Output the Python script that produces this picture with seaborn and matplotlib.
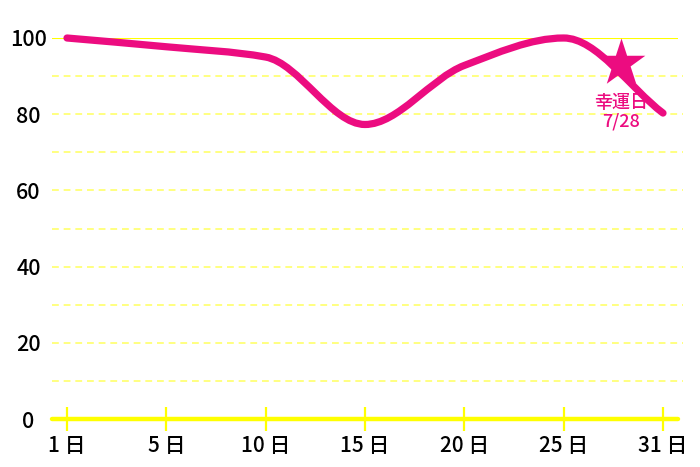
import numpy as np
import matplotlib
matplotlib.use("Agg")
import matplotlib.pyplot as plt
from matplotlib.path import Path
from matplotlib.patches import PathPatch
import seaborn as sns
import pandas as pd

# ---- data ----
days = ["1 日", "5 日", "10 日", "15 日", "20 日", "25 日", "31 日"]
values = [100, 97.7, 95, 77.3, 92.8, 100, 80.3]
lucky_label = "幸運日\n7/28"
lucky_pos = 5.58
lucky_value = 93.4
y_ticks = [0, 20, 40, 60, 80, 100]

PINK = "#ec0c80"
YELLOW = "#ffff00"
PALE = "#ffff80"

sns.set_theme(style="white")
plt.rcParams["font.family"] = ["Noto Sans CJK JP", "DejaVu Sans"]

fig = plt.figure(figsize=(7, 4.67), dpi=100)
ax = fig.add_axes([52 / 700, 48 / 467, 626 / 700, 381 / 467])

df = pd.DataFrame({"pos": np.arange(len(days)), "value": values})

# smooth monotone (Fritsch-Carlson) cubic Bezier path through the points
x = df["pos"].to_numpy(float)
y = df["value"].to_numpy(float)
h = np.diff(x)
d = np.diff(y) / h
m = np.zeros_like(y)
m[0], m[-1] = d[0], d[-1]
for i in range(1, len(y) - 1):
    if d[i - 1] * d[i] <= 0:
        m[i] = 0
    else:
        w1 = 2 * h[i] + h[i - 1]
        w2 = h[i] + 2 * h[i - 1]
        m[i] = (w1 + w2) / (w1 / d[i - 1] + w2 / d[i])
verts = [(x[0], y[0])]
codes = [Path.MOVETO]
for i in range(len(x) - 1):
    verts += [(x[i] + h[i] / 3, y[i] + m[i] * h[i] / 3),
              (x[i + 1] - h[i] / 3, y[i + 1] - m[i + 1] * h[i] / 3),
              (x[i + 1], y[i + 1])]
    codes += [Path.CURVE4] * 3

# grid lines
for v in range(10, 100, 10):
    ax.axhline(v, color=PALE, lw=1.4, ls=(0, (3.5, 2.5)), zorder=1,
               xmin=0, xmax=1.008, clip_on=False)
ax.axhline(100, color=YELLOW, lw=1.5, zorder=1)
ax.axhline(0, color=YELLOW, lw=3.2, zorder=2, clip_on=False)

patch = PathPatch(Path(verts, codes), facecolor="none", edgecolor=PINK,
                  lw=5.2, capstyle="round", joinstyle="round", zorder=3,
                  clip_on=False)
ax.add_patch(patch)

sns.scatterplot(x=[lucky_pos], y=[lucky_value], marker="*", s=1300,
                color=PINK, linewidth=0, ax=ax, zorder=4, clip_on=False)
ax.text(lucky_pos, 80.5, lucky_label, color=PINK, fontsize=13,
        fontweight="medium", ha="center", va="center", linespacing=1.0,
        zorder=5)

ax.set_xlim(-0.151, 6.151)
ax.set_ylim(0, 100)
ax.set_xticks(np.arange(len(days)))
ax.set_xticklabels(days, fontweight="medium")
ax.set_yticks(y_ticks)
ax.set_yticklabels([str(t) for t in y_ticks], ha="center", fontweight="medium")
for s in ax.spines.values():
    s.set_visible(False)
ax.tick_params(axis="x", bottom=True, direction="inout", length=17, width=1.6,
               color=YELLOW, labelsize=15, labelcolor="black", pad=3)
ax.tick_params(axis="y", left=False, length=0, labelsize=15.5,
               labelcolor="black", pad=17)
ax.set_xlabel("")
ax.set_ylabel("")
ax.grid(False)
ax.set_facecolor("white")

fig.savefig("out.png", dpi=100)
